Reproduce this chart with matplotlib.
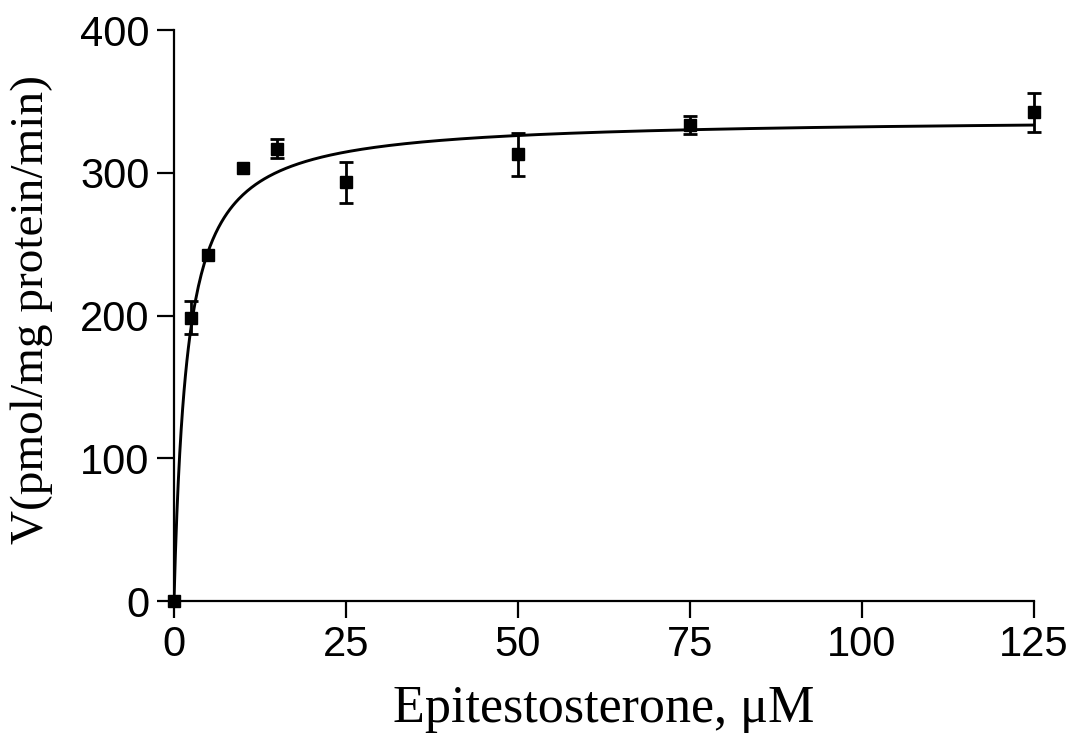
import matplotlib.pyplot as plt
import numpy as np

# measured rates
conc = [0, 2.5, 5, 10, 15, 25, 50, 75, 125]
rate = [0, 198.5, 242.4, 303.1, 316.9, 293.5, 313.0, 333.5, 342.3]
rate_err = [0, 11.7, 0, 0, 6.8, 14.4, 15.0, 6.0, 13.9]

# Michaelis-Menten fit
v_max = 338.5
k_m = 1.9

fig = plt.figure(figsize=(10.78, 7.47), dpi=100)
ax = fig.add_axes([0.1614, 0.1954, 0.7976, 0.7644])

xs = np.linspace(0, 125, 600)
ax.plot(xs, v_max * xs / (k_m + xs), color='black', lw=2.1, zorder=2)

# no bar where the error is zero
err = np.array(rate_err, dtype=float)
err[err == 0] = np.nan
ax.errorbar(conc, rate, yerr=err, fmt='s', color='black', ms=8.8,
            elinewidth=2.0, capsize=4.8, capthick=2.0, zorder=3, clip_on=False)

ax.set_xlim(0, 125)
ax.set_ylim(0, 400)
ax.set_xticks([0, 25, 50, 75, 100, 125])
ax.set_yticks([0, 100, 200, 300, 400])

for side in ['top', 'right']:
    ax.spines[side].set_visible(False)
for side in ['left', 'bottom']:
    ax.spines[side].set_linewidth(1.6)

ax.tick_params(direction='out', length=12.5, width=1.6, labelsize=30, pad=5)
for lab in ax.get_xticklabels() + ax.get_yticklabels():
    lab.set_family('Liberation Sans')

ax.set_xlabel('Epitestosterone, \u03bcM', family='Liberation Serif', fontsize=37.5)
ax.xaxis.label.set_va('baseline')
ax.xaxis.set_label_coords(0.5, -0.212)

ax.set_ylabel('V(pmol/mg protein/min)', family='Liberation Serif', fontsize=34)
ax.yaxis.label.set_va('center')
ax.yaxis.set_label_coords(-0.165, 0.51)

fig.savefig('out.png', dpi=100)
